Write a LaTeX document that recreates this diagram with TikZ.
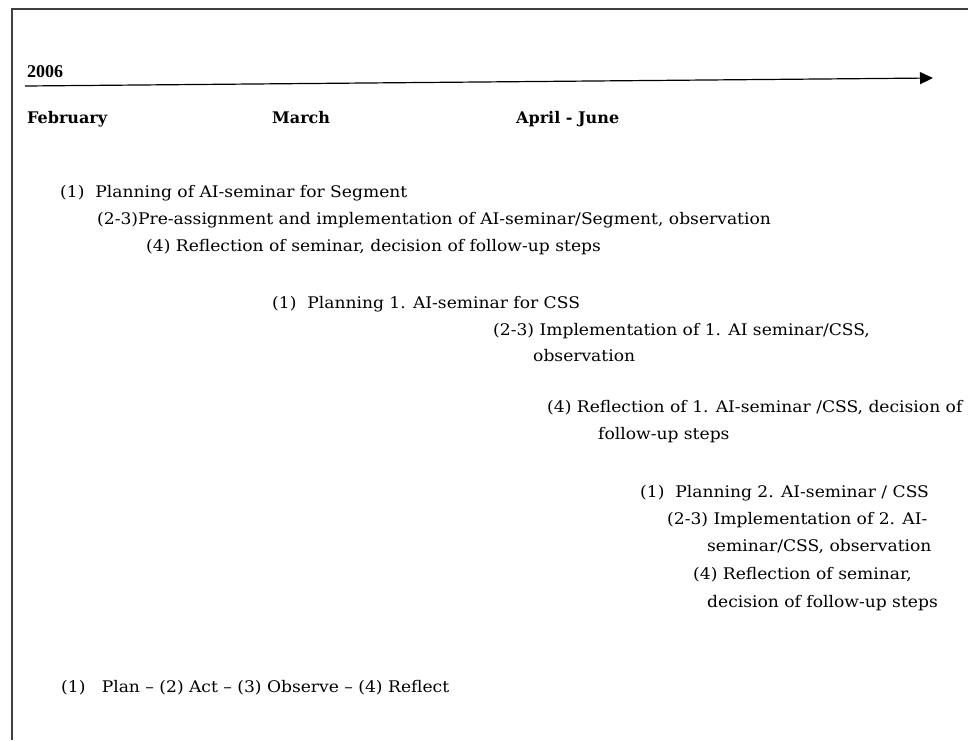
\documentclass[tikz,border=0pt]{standalone}
\usepackage{fontspec}
\setmainfont{DejaVu Serif}
\newfontfamily\widefont[FakeStretch=1.07]{DejaVu Serif}
\newfontfamily\yearfont{Liberation Serif}
\usetikzlibrary{arrows.meta}
\begin{document}
\begin{tikzpicture}[x=1pt,y=-1pt,
  heading/.style={anchor=base west,inner sep=0pt,font=\fontsize{16}{18}\selectfont\bfseries},
  yearlabel/.style={anchor=base west,inner sep=0pt,font=\yearfont\fontsize{18}{20}\selectfont\bfseries},
  entry/.style={anchor=base west,inner sep=0pt,font=\widefont\fontsize{16}{18}\selectfont},
  frameline/.style={draw=black!75,line width=1.3pt},
  timeline/.style={draw=black,line width=1.2pt,-{Triangle[length=13pt,width=12pt]}}]
  \useasboundingbox (0,0) rectangle (968,740);
  % open frame: top and left edges
  \draw[frameline] (12,740) -- (12,9) -- (968,9);

  % time axis
  \coordinate (axisstart) at (25,86);
  \coordinate (axisend) at (933,78);
  \draw[timeline] (axisstart) -- (axisend);
  \node[yearlabel] (year) at (27,77) {2006};

  % months
  \node[heading] (feb) at (27,123) {February};
  \node[heading] (mar) at (272,123) {March};
  \node[heading] (apr) at (516,123) {April - June};

  % cycle for Segment
  \node[entry] (seg1) at (60,197) {(1)\ \ Planning of AI-seminar for Segment};
  \node[entry] (seg2) at (97,224) {(2-3)Pre-assignment and implementation of AI-seminar/Segment, observation};
  \node[entry] (seg4) at (146,251) {(4) Reflection of seminar, decision of follow-up steps};

  % first cycle for CSS
  \node[entry] (cssa1) at (272,308) {(1)\ \ Planning 1. AI-seminar for CSS};
  \node[entry] (cssa2) at (493,335) {(2-3) Implementation of 1. AI seminar/CSS,};
  \node[entry] (cssa2b) at (533,361) {observation};
  \node[entry] (cssa4) at (547,412) {(4) Reflection of 1. AI-seminar /CSS, decision of};
  \node[entry] (cssa4b) at (598,439) {follow-up steps};

  % second cycle for CSS
  \node[entry] (cssb1) at (640,497) {(1)\ \ Planning 2. AI-seminar / CSS};
  \node[entry] (cssb2) at (667,524) {(2-3) Implementation of 2. AI-};
  \node[entry] (cssb2b) at (707,551) {seminar/CSS, observation};
  \node[entry] (cssb4) at (693,579) {(4) Reflection of seminar,};
  \node[entry] (cssb4b) at (707,607) {decision of follow-up steps};

  % legend of the cycle
  \node[entry] (legend) at (61,692) {(1)\ \ \ Plan – (2) Act – (3) Observe – (4) Reflect};
\end{tikzpicture}
\end{document}
